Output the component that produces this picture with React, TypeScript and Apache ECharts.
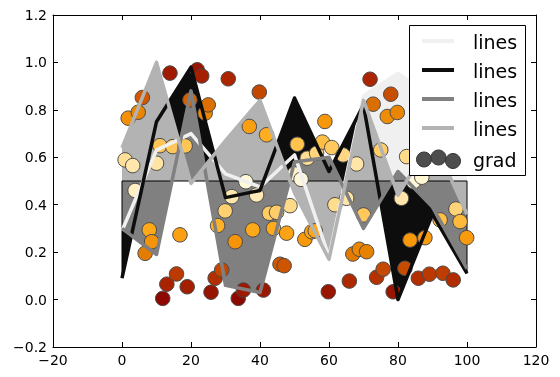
import React, { useEffect, useRef } from "react";
import * as echarts from "echarts";

// ---- data ----
const lineX = [0, 10, 20, 30, 40, 50, 60, 70, 80, 90, 100];
const lightY = [0.29, 0.63, 0.70, 0.53, 0.475, 0.61, 0.18, 0.86, 0.955, 0.85, 0.6];
const blackY = [0.09, 0.75, 0.98, 0.43, 0.46, 0.85, 0.54, 0.82, 0.0, 0.36, 0.11];
const grayY = [0.30, 0.19, 0.88, 0.06, 0.03, 0.58, 0.60, 0.30, 0.54, 0.39, 0.13];
const silverY = [0.64, 1.0, 0.49, 0.67, 0.84, 0.45, 0.17, 0.84, 0.44, 0.68, 0.36];
const fillBase = 0.5;

const dotX = [0.9, 1.8, 3.1, 3.8, 4.7, 5.9, 6.7, 7.9, 8.6, 10.0, 11.0, 11.8, 13.0, 13.9, 14.7, 15.8, 16.8, 18.3, 18.9, 19.7,
  21.8, 23.1, 24.1, 25.0, 25.8, 27.0, 27.7, 28.9, 29.9, 30.8, 31.8, 32.8, 33.7, 35.2, 35.9, 36.9, 37.9, 39.0, 39.8,
  41.0, 41.9, 42.7, 43.9, 44.8, 45.8, 47.0, 47.7, 48.7, 50.0, 50.8, 51.9, 53.0, 53.7, 55.0, 56.0, 56.4, 58.1, 58.8,
  59.8, 60.8, 61.7, 64.1, 65.1, 65.9, 66.9, 68.0, 68.8, 70.0, 70.9, 71.9, 72.8, 73.8, 75.0, 75.7, 76.9, 77.9, 78.6,
  79.8, 81.0, 82.0, 82.5, 83.5, 84.5, 85.9, 86.9, 87.8, 89.1, 92.2, 93.0, 96.0, 96.8, 98.0, 99.9];
const dotY = [0.589, 0.765, 0.565, 0.46, 0.79, 0.852, 0.195, 0.294, 0.244, 0.575, 0.649, 0.005, 0.065, 0.955, 0.645, 0.108, 0.273, 0.648, 0.054, 0.842,
  0.969, 0.943, 0.786, 0.821, 0.031, 0.09, 0.312, 0.125, 0.374, 0.931, 0.434, 0.244, 0.005, 0.04, 0.497, 0.73, 0.294, 0.441, 0.875,
  0.04, 0.695, 0.364, 0.30, 0.368, 0.149, 0.143, 0.28, 0.396, 0.53, 0.655, 0.507, 0.254, 0.596, 0.286, 0.29, 0.617, 0.664, 0.751,
  0.033, 0.641, 0.40, 0.61, 0.427, 0.078, 0.192, 0.572, 0.212, 0.357, 0.202, 0.929, 0.824, 0.094, 0.631, 0.128, 0.772, 0.866, 0.033,
  0.789, 0.427, 0.132, 0.603, 0.251, 0.497, 0.09, 0.516, 0.261, 0.107, 0.336, 0.111, 0.083, 0.382, 0.329, 0.261];

const xRange = [-20, 120];
const xStep = 20;
const yRange = [-0.2, 1.2];
const yStep = 0.2;
const legendLabels = ["lines", "lines", "lines", "lines", "grad"];

// ---- styles ----
const LIGHT = "#f0f0f0";
const BLACK = "#0d0d0d";
const GRAY = "#808080";
const SILVER = "#b3b3b3";
const lineColors = [LIGHT, BLACK, GRAY, SILVER];
// colour ramp from far-from-0.5 (dark) to 0.5 (cream)
const shadeStops = ["#8a0600", "#a21c00", "#b83400", "#d05a00", "#e68000", "#f7970a", "#ffab1c", "#ffc553", "#ffdc8e", "#ffecbc", "#fffadc"];
const dotColors = shadeStops.concat(shadeStops.slice(0, -1).reverse());
const FONT = "DejaVu Sans";

const minus = (s: string, v: number) => (v < -1e-9 ? "\u2212" + s : s);

export default function App() {
  const ref = useRef<HTMLDivElement>(null);
  useEffect(() => {
    document.body.style.margin = "0";
    if (!ref.current) return;
    const chart = echarts.init(ref.current, undefined, { renderer: "svg" });
    const pts = (ys: number[]) => lineX.map((x, i) => [x, ys[i]]);
    const fill = (ys: number[], color: string) => ({
      type: "line", data: pts(ys), symbol: "none", silent: true, z: 2,
      lineStyle: { width: 0, opacity: 0 },
      areaStyle: { color, opacity: 1, origin: fillBase },
    });
    const line = (ys: number[], color: string, name: string) => ({
      type: "line", name, data: pts(ys), symbol: "none", silent: true, z: 4,
      lineStyle: { width: 3.5, color, join: "round", cap: "butt" },
    });
    const last = lineX.length - 1;
    const axisCommon = {
      type: "value",
      axisLine: { show: true, onZero: false, lineStyle: { color: "#000", width: 1 } },
      axisTick: { show: true, inside: true, length: 5, lineStyle: { color: "#000", width: 1 } },
      splitLine: { show: false },
    };
    const legendY = [41, 70, 99, 128];
    const graphics: any[] = [
      { type: "rect", z: 100, shape: { x: 409.5, y: 25.5, width: 116, height: 150 }, style: { fill: "#fff", stroke: "#000", lineWidth: 1 } },
    ];
    lineColors.forEach((c, i) => {
      graphics.push({ type: "line", z: 101, shape: { x1: 422, y1: legendY[i], x2: 454, y2: legendY[i] }, style: { stroke: c, lineWidth: 4 } });
    });
    legendLabels.forEach((t, i) => {
      const y = i < 4 ? legendY[i] : 159;
      graphics.push({ type: "text", z: 101, x: 473, y: y + 1, style: { text: t, fill: "#000", fontSize: 19, fontFamily: FONT, align: "left", verticalAlign: "middle" } });
    });
    [[424, 159.5], [438.5, 157.5], [453, 161]].forEach(([cx, cy]) => {
      graphics.push({ type: "circle", z: 101, shape: { cx, cy, r: 7.5 }, style: { fill: "#4d4d4d", stroke: "#333", lineWidth: 1 } });
    });

    chart.setOption({
      animation: false,
      grid: { left: 53, right: 24, top: 15, bottom: 30 },
      xAxis: [
        { ...axisCommon, min: xRange[0], max: xRange[1], interval: xStep, position: "bottom",
          axisLabel: { color: "#000", fontSize: 14, fontFamily: FONT, margin: 6, formatter: (v: number) => minus(String(Math.abs(Math.round(v))), v) } },
        { ...axisCommon, min: xRange[0], max: xRange[1], interval: xStep, position: "top", axisLabel: { show: false } },
      ],
      yAxis: [
        { ...axisCommon, min: yRange[0], max: yRange[1], interval: yStep, position: "left",
          axisLabel: { color: "#000", fontSize: 14, fontFamily: FONT, margin: 6, formatter: (v: number) => minus(Math.abs(v).toFixed(1), v) } },
        { ...axisCommon, min: yRange[0], max: yRange[1], interval: yStep, position: "right", axisLabel: { show: false } },
      ],
      visualMap: [{ type: "continuous", show: false, seriesIndex: 5, dimension: 1, min: 0, max: 1, inRange: { color: dotColors } }],
      series: [
        fill(lightY, LIGHT),
        fill(blackY, BLACK),
        fill(grayY, GRAY),
        fill(silverY, SILVER),
        {
          type: "line", symbol: "none", silent: true, z: 2,
          data: [[lineX[0], blackY[0]], [lineX[0], fillBase], [lineX[last], fillBase], [lineX[last], blackY[last]]],
          lineStyle: { color: "#000", width: 1 },
        },
        {
          type: "scatter", name: "grad", data: dotX.map((x, i) => [x, dotY[i]]), symbol: "circle", symbolSize: 14.5, z: 3, silent: true,
          itemStyle: { borderColor: "#4a4a4a", borderWidth: 1, opacity: 1 },
        },
        line(lightY, LIGHT, "lines"),
        line(blackY, BLACK, "lines"),
        line(grayY, GRAY, "lines"),
        line(silverY, SILVER, "lines"),
      ],
      graphic: graphics,
    });
    return () => chart.dispose();
  }, []);
  return <div ref={ref} style={{ width: 560, height: 377, position: "fixed", left: 0, top: 0 }} />;
}
